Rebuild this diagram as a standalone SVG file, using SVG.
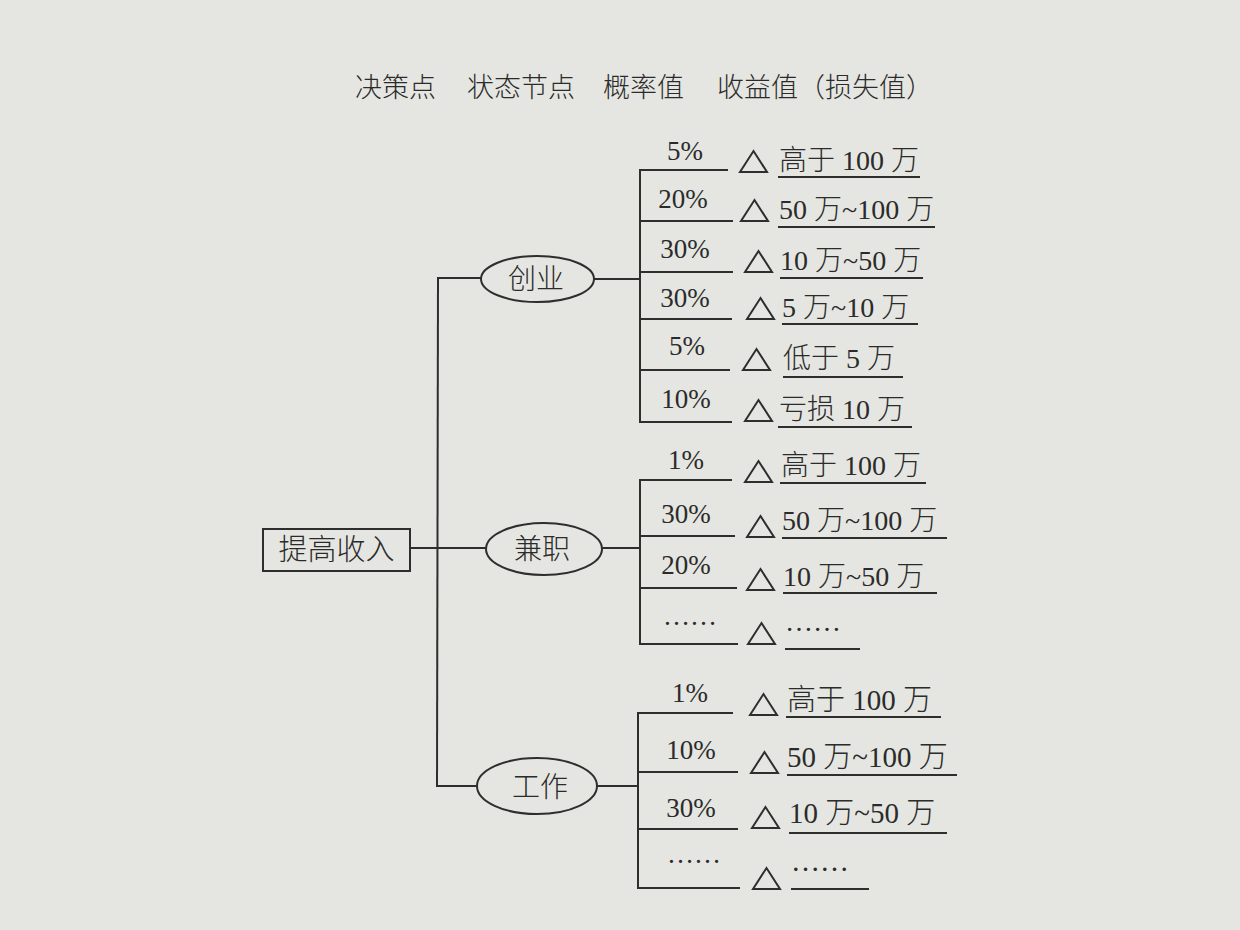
<svg xmlns="http://www.w3.org/2000/svg" width="1240" height="930" viewBox="0 0 1240 930">
<style>
.bg{fill:#e5e6e1}
.ln{stroke:#2e2e2e;stroke-width:2;fill:none}
.t{font-family:"Liberation Serif","Noto Sans CJK SC",serif;fill:#2b2b2b;font-weight:300}
.cj{font-family:"Noto Sans CJK SC","Liberation Serif",sans-serif;fill:#2b2b2b;font-weight:300}
.p{font-size:27px;text-anchor:middle}
.o{font-size:28px}
.o2{font-size:29px}
.nd{font-size:28px;text-anchor:middle}
.ti{font-size:27px}
.tri{stroke:#2e2e2e;stroke-width:2;fill:none;stroke-linejoin:miter}
</style>
<defs>
<polygon id="tri" points="0,0 13.5,-21 27,0"/>
</defs>
<rect class="bg" x="0" y="0" width="1240" height="930"/>

<g id="title">
<text class="cj ti" x="355" y="97">决策点</text>
<text class="cj ti" x="467" y="97">状态节点</text>
<text class="cj ti" x="603" y="97">概率值</text>
<text class="cj ti" x="717" y="97">收益值（损失值）</text>
</g>

<g id="connectors">
<line class="ln" x1="410" y1="548" x2="486" y2="548"/>
<line class="ln" x1="438" y1="278" x2="437" y2="787"/>
<line class="ln" x1="437" y1="278" x2="481" y2="278"/>
<line class="ln" x1="436" y1="786" x2="477" y2="786"/>
<!-- 创业 -->
<line class="ln" x1="594" y1="279" x2="640" y2="279"/>
<line class="ln" x1="640" y1="169" x2="640" y2="423"/>
<line class="ln" x1="640" y1="170" x2="728" y2="170"/>
<line class="ln" x1="640" y1="221" x2="733" y2="221"/>
<line class="ln" x1="640" y1="272" x2="733" y2="272"/>
<line class="ln" x1="640" y1="319" x2="732" y2="319"/>
<line class="ln" x1="640" y1="370" x2="730" y2="370"/>
<line class="ln" x1="640" y1="422" x2="732" y2="422"/>
<!-- 兼职 -->
<line class="ln" x1="602" y1="548" x2="640" y2="548"/>
<line class="ln" x1="640" y1="479" x2="640" y2="645"/>
<line class="ln" x1="640" y1="480" x2="732" y2="480"/>
<line class="ln" x1="640" y1="536" x2="735" y2="536"/>
<line class="ln" x1="640" y1="588" x2="737" y2="588"/>
<line class="ln" x1="640" y1="644" x2="738" y2="644"/>
<!-- 工作 -->
<line class="ln" x1="597" y1="786" x2="638" y2="786"/>
<line class="ln" x1="638" y1="712" x2="638" y2="889"/>
<line class="ln" x1="638" y1="713" x2="733" y2="713"/>
<line class="ln" x1="638" y1="772" x2="738" y2="772"/>
<line class="ln" x1="638" y1="829" x2="738" y2="829"/>
<line class="ln" x1="638" y1="888" x2="740" y2="888"/>
<!-- probability labels -->
<text class="t p" x="685" y="160">5%</text>
<text class="t p" x="683" y="208">20%</text>
<text class="t p" x="685" y="258">30%</text>
<text class="t p" x="685" y="307">30%</text>
<text class="t p" x="687" y="355">5%</text>
<text class="t p" x="686" y="408">10%</text>
<text class="t p" x="686" y="469">1%</text>
<text class="t p" x="686" y="523">30%</text>
<text class="t p" x="686" y="574">20%</text>
<text class="t p" x="690" y="625">……</text>
<text class="t p" x="690" y="702">1%</text>
<text class="t p" x="691" y="759">10%</text>
<text class="t p" x="691" y="817">30%</text>
<text class="t p" x="694" y="863">……</text>
</g>

<g id="root">
<rect class="ln" x="263" y="529" width="147" height="42"/>
<text class="cj nd" x="336.5" y="560" style="font-size:29px">提高收入</text>
</g>

<g id="node-chuangye">
<ellipse class="ln" cx="537.5" cy="279" rx="56.5" ry="23"/>
<text class="cj nd" x="536" y="289">创业</text>
</g>
<g id="node-jianzhi">
<ellipse class="ln" cx="544" cy="549" rx="58" ry="26"/>
<text class="cj nd" x="542" y="559">兼职</text>
</g>
<g id="node-gongzuo">
<ellipse class="ln" cx="537" cy="786" rx="60" ry="28"/>
<text class="cj nd" x="540" y="797">工作</text>
</g>

<!-- 创业 outcomes -->
<g id="out-cy-1"><use href="#tri" class="tri" x="740" y="172"/><text class="t o" x="779" y="170">高于 100 万</text><line class="ln" x1="778" y1="177" x2="920" y2="177"/></g>
<g id="out-cy-2"><use href="#tri" class="tri" x="741" y="221"/><text class="t o" x="779" y="219">50 万~100 万</text><line class="ln" x1="778" y1="227" x2="935" y2="227"/></g>
<g id="out-cy-3"><use href="#tri" class="tri" x="745" y="272"/><text class="t o" x="780" y="270">10 万~50 万</text><line class="ln" x1="780" y1="278" x2="923" y2="278"/></g>
<g id="out-cy-4"><use href="#tri" class="tri" x="747" y="319"/><text class="t o" x="782" y="317">5 万~10 万</text><line class="ln" x1="782" y1="324" x2="918" y2="324"/></g>
<g id="out-cy-5"><use href="#tri" class="tri" x="743" y="370"/><text class="t o" x="783" y="368">低于 5 万</text><line class="ln" x1="783" y1="377" x2="903" y2="377"/></g>
<g id="out-cy-6"><use href="#tri" class="tri" x="745" y="421"/><text class="t o" x="779" y="419">亏损 10 万</text><line class="ln" x1="778" y1="427" x2="912" y2="427"/></g>

<!-- 兼职 outcomes -->
<g id="out-jz-1"><use href="#tri" class="tri" x="745" y="482"/><text class="t o" x="781" y="475">高于 100 万</text><line class="ln" x1="780" y1="483" x2="926" y2="483"/></g>
<g id="out-jz-2"><use href="#tri" class="tri" x="747" y="537"/><text class="t o" x="782" y="530">50 万~100 万</text><line class="ln" x1="782" y1="538" x2="947" y2="538"/></g>
<g id="out-jz-3"><use href="#tri" class="tri" x="747" y="590"/><text class="t o" x="783" y="586">10 万~50 万</text><line class="ln" x1="783" y1="593" x2="937" y2="593"/></g>
<g id="out-jz-4"><use href="#tri" class="tri" x="748" y="644"/><text class="t o" x="785" y="631">……</text><line class="ln" x1="785" y1="649" x2="860" y2="649"/></g>

<!-- 工作 outcomes -->
<g id="out-gz-1"><use href="#tri" class="tri" x="750" y="715"/><text class="t o2" x="787" y="710">高于 100 万</text><line class="ln" x1="786" y1="717" x2="941" y2="717"/></g>
<g id="out-gz-2"><use href="#tri" class="tri" x="751" y="773"/><text class="t o2" x="787" y="767">50 万~100 万</text><line class="ln" x1="787" y1="775" x2="957" y2="775"/></g>
<g id="out-gz-3"><use href="#tri" class="tri" x="752" y="828"/><text class="t o2" x="789" y="823">10 万~50 万</text><line class="ln" x1="789" y1="833" x2="947" y2="833"/></g>
<g id="out-gz-4"><use href="#tri" class="tri" x="753" y="889"/><text class="t o2" x="791" y="871">……</text><line class="ln" x1="791" y1="889" x2="869" y2="889"/></g>
</svg>
